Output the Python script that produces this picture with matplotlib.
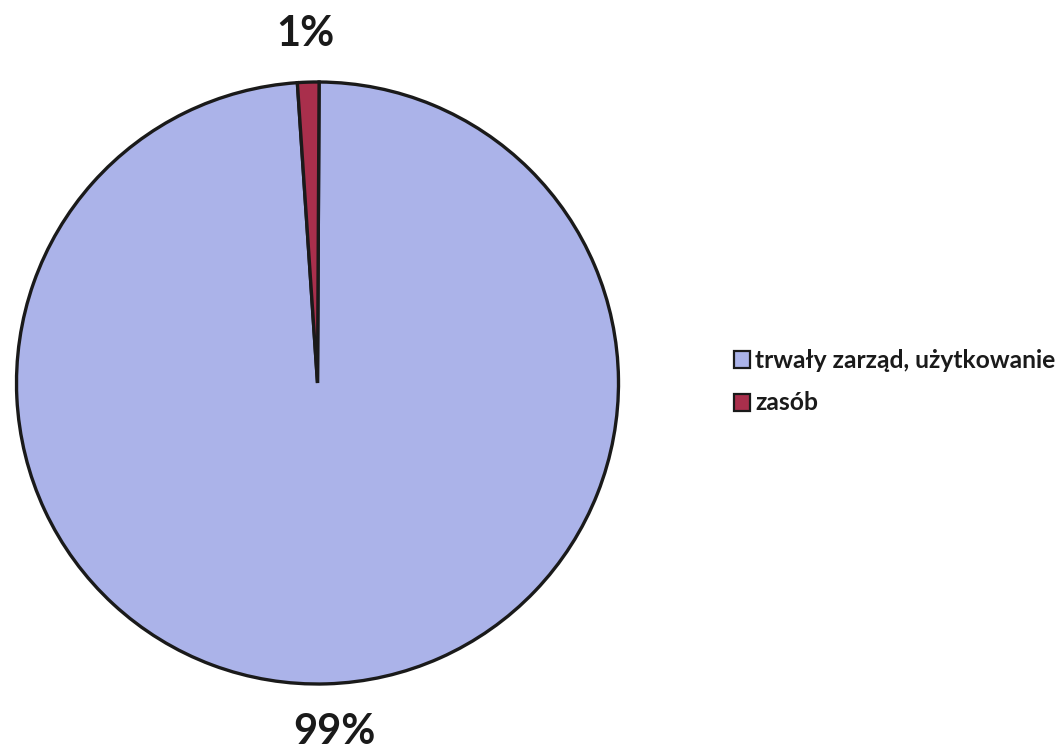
import matplotlib
matplotlib.use("Agg")
import matplotlib.pyplot as plt
from matplotlib.patches import Rectangle

categories = ["trwały zarząd, użytkowanie", "zasób"]
values = [98.85, 1.15]
labels = ["99%", "1%"]
colors = ["#abb3e9", "#a92f4c"]

W, H = 1063, 752
fig = plt.figure(figsize=(W / 100, H / 100), dpi=100)
ax = fig.add_axes([0, 0, 1, 1])

cx, cy, r = 317.5, 383, 301
wedges, _ = ax.pie(values, colors=colors, startangle=-89.7, counterclock=True,
                   center=(cx, cy), radius=r, frame=True,
                   wedgeprops=dict(edgecolor="#1a1a1a", linewidth=2.4))
ax.set_xlim(0, W)
ax.set_ylim(H, 0)
ax.set_aspect("equal")
ax.axis("off")

font = "Lato"
ax.text(305, 31, labels[1], ha="center", va="center_baseline", fontsize=30,
        fontweight="bold", family=font, color="#1a1a1a")
ax.text(334, 729, labels[0], ha="center", va="center_baseline", fontsize=30,
        fontweight="bold", family=font, color="#1a1a1a")

ys = [360, 403]
for cat, col, y in zip(categories, colors, ys):
    ax.add_patch(Rectangle((734, y - 9), 16, 17, facecolor=col,
                           edgecolor="#1a1a1a", linewidth=1.6))
    ax.text(755, y, cat, ha="left", va="center", fontsize=17.7,
            fontweight="bold", family=font, color="#1a1a1a")

fig.savefig("out.png", dpi=100)
